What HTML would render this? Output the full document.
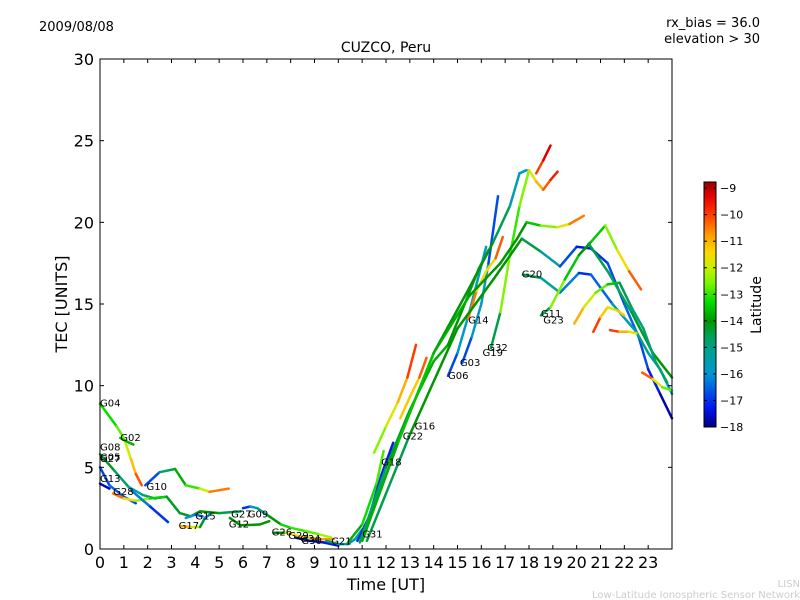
<!DOCTYPE html>
<html><head><meta charset="utf-8"><style>
body{margin:0;background:#fff;}
svg{display:block;font-family:"DejaVu Sans","Liberation Sans",sans-serif;}
</style></head><body>
<svg id="chart" width="800" height="600" viewBox="0 0 800 600">
<rect width="800" height="600" fill="#fff"/>
<text x="39" y="31" font-size="13">2009/08/08</text>
<text x="760" y="27" font-size="13" text-anchor="end">rx_bias = 36.0</text>
<text x="760" y="43" font-size="13" text-anchor="end">elevation &gt; 30</text>
<text x="386" y="52" font-size="14" text-anchor="middle">CUZCO, Peru</text>
<text x="0" y="0" font-size="16" text-anchor="middle" transform="translate(67,304) rotate(-90)">TEC [UNITS]</text>
<text x="386" y="590" font-size="16" text-anchor="middle">Time [UT]</text>
<text x="800" y="587" font-size="10" fill="#ccc" text-anchor="end">LISN</text>
<text x="800" y="598" font-size="10" fill="#ccc" text-anchor="end">Low-Latitude Ionospheric Sensor Network</text>
<defs><linearGradient id="cmap" x1="0" y1="1" x2="0" y2="0"></linearGradient></defs>
<g id="marks"></g>
<g id="axes"></g>
</svg>
<script>
const xTicks=[0,1,2,3,4,5,6,7,8,9,10,11,12,13,14,15,16,17,18,19,20,21,22,23];
const yTicks=[0,5,10,15,20,25,30];
const cbTicks=[-9,-10,-11,-12,-13,-14,-15,-16,-17,-18];
// tracks: [time UT, TEC, latitude]
const trG04=[[0,8.9,-13.5],[0.7,7.5,-13],[1.0,6.8,-12.5],[1.3,5.5,-11.5],[1.5,4.6,-10.8],[1.75,3.9,-9.5]];
const trG02=[[0.85,6.8,-13.5],[1.1,6.6,-13.7],[1.4,6.4,-13.8]];
const trG08=[[0,5.8,-14],[0.6,4.8,-14.5],[1.2,3.8,-15],[1.8,3.3,-15.5],[2.3,3.1,-14.5],[2.8,3.2,-14]];
const trG13=[[0,5.0,-16.5],[0.4,3.9,-17],[1.0,3.2,-16],[1.5,2.8,-17.5]];
const trG13b=[[0,4.0,-17.5],[0.4,3.7,-17.8]];
const trG28=[[0.55,3.4,-9.8],[1.0,3.1,-11],[1.5,2.95,-12],[2.1,3.1,-12.8],[2.8,3.2,-14],[3.35,2.2,-14.5],[3.8,2.0,-14],[4.2,2.3,-14],[5.0,2.2,-14],[5.9,2.3,-15]];
const trG10=[[1.9,3.9,-18],[2.5,4.7,-15.5],[3.15,4.9,-14],[3.6,3.9,-13.5],[4.2,3.7,-12.5],[4.6,3.5,-11.5],[5.4,3.7,-9.5]];
const trBlue=[[1.3,3.6,-16],[2.1,2.6,-16.5],[2.85,1.65,-17.5]];
const trG17=[[3.4,1.4,-10.5],[3.8,1.35,-11.5],[4.2,1.35,-12.5],[4.4,1.9,-16],[4.6,2.1,-16.5]];
const trG15=[[3.6,1.9,-16],[4.0,2.1,-16],[4.3,2.0,-17]];
const trG12=[[5.45,1.9,-14],[5.9,1.45,-14],[6.7,1.5,-14],[7.1,1.7,-14]];
const trG09=[[6.0,2.5,-17.5],[6.3,2.6,-16.5],[6.6,2.5,-15.5],[7.1,2.0,-14.5],[7.6,1.5,-13.5],[8.0,1.3,-13],[8.6,1.1,-13],[9.2,0.9,-12.5],[9.7,0.7,-12]];
const trG26=[[7.3,1.0,-16],[7.8,1.0,-12],[8.3,0.8,-11],[8.8,0.7,-12],[9.3,0.6,-11],[9.8,0.6,-10.5]];
const trG30=[[8.2,0.7,-17.5],[8.8,0.5,-17.5],[9.4,0.4,-17.5],[10.0,0.2,-17]];
const trG21=[[9.5,0.5,-14.5],[10.0,0.3,-15],[10.4,0.3,-16],[10.7,0.6,-15.5],[11.0,1.2,-15]];
const trYel=[[10.4,0.4,-14],[11.0,1.5,-13.5],[11.6,4.0,-13],[11.9,6.0,-12.8]];
const trG18=[[10.8,0.5,-17],[11.3,2.0,-17],[11.8,4.5,-17],[12.3,6.5,-17.5]];
const trRed=[[11.5,5.9,-13],[12.0,7.5,-12],[12.5,9.0,-11.5],[12.9,10.5,-10.5],[13.26,12.5,-9.5]];
const trG16=[[12.6,8.0,-11],[13.0,9.3,-11.5],[13.4,10.5,-11],[13.7,11.7,-9.5]];
const trG06=[[10.9,0.4,-15],[12.0,5.0,-14.5],[13.0,8.5,-14],[14.0,11.5,-13.5],[14.6,12.5,-14],[15.3,15,-14],[15.9,17.2,-14.5],[16.3,18.3,-16]];
const trG06b=[[14.6,10.6,-17.5],[15.0,12,-16],[15.5,14.5,-15.5],[15.9,16.8,-15.5],[16.2,18.5,-16]];
const trG03=[[15.2,11.4,-17.5],[15.6,13,-16],[16.0,15,-15.5],[16.3,17.5,-16],[16.7,21.6,-17.5]];
const trG14=[[15.45,14.1,-10],[15.8,15.8,-11],[16.2,17,-12],[16.6,17.8,-11],[16.9,19.1,-9.5]];
const trLong1=[[11,0.5,-15],[12.5,6.5,-14],[14,12,-14],[15.5,16,-14],[16.5,18.8,-14],[17.2,21,-15],[17.6,23,-16],[17.9,23.2,-16]];
const trG32=[[16.4,12.3,-17],[16.8,14.5,-12],[17.2,18,-13],[17.6,21,-13],[18.0,23.2,-12],[18.3,22.5,-11.5],[18.6,22.0,-10.5],[18.9,22.6,-10],[19.2,23.1,-9.3]];
const trRed2=[[18.3,23,-10.5],[18.6,23.8,-9.5],[18.9,24.7,-9]];
const trG20a=[[11,0.5,-14],[12.5,6.5,-13.5],[14,12,-13.5],[15.5,15.5,-14],[16.8,17.5,-14],[17.5,19,-14],[17.9,20.0,-14],[18.5,19.8,-13],[19.2,19.7,-12],[19.7,19.9,-11.5],[20.3,20.4,-9.5]];
const trBig=[[11.2,0.5,-15],[13,7,-14],[15,13.5,-14],[16.5,16.5,-14],[17.7,19,-14],[18.5,18.2,-15],[19.3,17.3,-16],[20,18.5,-17.5],[20.6,18.4,-17],[21.3,17.5,-17],[22,15,-16.5],[22.6,13,-16.5],[23,11,-17],[23.5,9.5,-17.5],[24,8,-18]];
const trG20=[[17.75,16.8,-14],[18.5,16.6,-15],[19.3,15.7,-15.5],[20.1,16.9,-17],[20.6,16.8,-17],[21.5,15,-16],[22.5,13.3,-15],[23,12,-15],[23.5,11,-16],[24,9.5,-16]];
const trG11=[[18.5,14.3,-17],[18.9,14.8,-12],[19.5,16.5,-13],[20.1,18,-14],[20.6,18.8,-14],[21.2,19.8,-13],[21.7,18.3,-12],[22.2,17,-11],[22.7,15.9,-9.5]];
const trGrn=[[20.5,18.7,-14],[21.3,17,-15],[22.3,14.5,-14.5],[23.2,12,-14],[24,10.5,-14]];
const trOr=[[19.9,13.8,-10.5],[20.3,14.8,-11.5],[20.8,15.7,-12.5],[21.3,16.2,-13],[21.8,16.3,-14],[22.3,14.8,-15],[22.8,13.5,-15],[23.3,11.5,-14.5],[23.8,10.2,-15]];
const trRed3=[[20.7,13.3,-9.5],[21.0,14.2,-10.5],[21.3,14.8,-12],[21.7,14.6,-11.5],[22.0,14.3,-11]];
const trRed4=[[21.4,13.4,-9.5],[21.8,13.3,-10.5],[22.2,13.3,-11.5],[22.5,13.2,-12]];
const trEnd=[[22.75,10.8,-9.5],[23.2,10.4,-11],[23.6,9.9,-12.5],[24,9.7,-13]];
const tracks=[trG04,trG02,trG08,trG13,trG13b,trG28,trG10,trBlue,trG17,trG15,trG12,trG09,trG26,trG30,trG21,trYel,trG18,trRed,trG16,trG06,trG06b,trG03,trG14,trLong1,trG32,trRed2,trG20a,trBig,trG20,trG11,trGrn,trOr,trRed3,trRed4,trEnd];
const labelNames=["G04","G02","G08","G05","G27","G13","G28","G10","G15","G17","G27","G09","G12","G26","G29","G34","G30","G21","G31","G18","G16","G22","G06","G03","G19","G32","G14","G20","G11","G23"];
const labelT=[0,0.85,0,0,0,0,0.55,1.95,4.0,3.3,5.5,6.2,5.4,7.2,7.9,8.4,8.45,9.7,11.0,11.8,13.2,12.7,14.6,15.1,16.05,16.25,15.45,17.7,18.5,18.6];
const labelV=[8.9,6.8,6.2,5.6,5.5,4.3,3.5,3.8,2.0,1.4,2.1,2.1,1.5,1.0,0.8,0.6,0.5,0.45,0.9,5.3,7.5,6.9,10.6,11.4,12.0,12.3,14.0,16.8,14.4,14.0];
const X0=100,X1=672,Y0=549,Y1=59;
const xs=t=>X0+t*(X1-X0)/24;
const ys=v=>Y0-v*(Y0-Y1)/30;
// colormap stops [latitude, r,g,b]
const cmStops=[[-18,0,0,130],[-17.3,0,20,240],[-16.6,0,90,230],[-16,0,150,210],[-15.3,0,160,160],[-14.6,0,160,90],[-14,0,150,0],[-13.3,0,220,0],[-12.6,120,245,0],[-12,200,240,0],[-11.4,250,215,0],[-10.8,255,160,0],[-10,255,60,0],[-9.3,230,0,0],[-8.77,150,0,0]];
function cmap(lat){
 if(lat<=cmStops[0][0])return `rgb(${cmStops[0].slice(1)})`;
 for(let i=0;i<cmStops.length-1;i++){const a=cmStops[i],b=cmStops[i+1];
  if(lat<=b[0]){const f=(lat-a[0])/(b[0]-a[0]);return `rgb(${[1,2,3].map(k=>Math.round(a[k]+(b[k]-a[k])*f))})`;}}
 const l=cmStops[cmStops.length-1];return `rgb(${l.slice(1)})`;}
const NS='http://www.w3.org/2000/svg';
const grad=document.getElementById('cmap');
cmStops.forEach(s=>{const st=document.createElementNS(NS,'stop');st.setAttribute('offset',((s[0]+18)/9.23).toFixed(3));st.setAttribute('stop-color',`rgb(${s.slice(1)})`);grad.appendChild(st);});
const marks=document.getElementById('marks');
const axes=document.getElementById('axes');
function mk(tag,attrs,parent){const e=document.createElementNS(NS,tag);for(const k in attrs)e.setAttribute(k,attrs[k]);parent.appendChild(e);return e;}
tracks.forEach((tr,ti)=>{
 const g=mk('g',{},marks);
 
 
 for(let i=0;i<tr.length-1;i++){
  const a=tr[i],b=tr[i+1];
  const l=mk('line',{x1:xs(a[0]).toFixed(1),y1:ys(a[1]).toFixed(1),x2:xs(b[0]).toFixed(1),y2:ys(b[1]).toFixed(1),stroke:cmap((a[2]+b[2])/2),'stroke-width':2.5,'stroke-linecap':'round'},g);
  
  
 }
});
labelNames.forEach((n,i)=>{
 const t=mk('text',{x:xs(labelT[i]).toFixed(1),y:(ys(labelV[i])+3).toFixed(1),'font-size':10},marks);
 t.textContent=n;
 
 
});
const frame=mk('rect',{x:X0,y:Y1,width:X1-X0,height:Y0-Y1,fill:'none',stroke:'#000','stroke-width':1},axes);


xTicks.forEach(t=>{
 const x=xs(t);
 mk('line',{x1:x,y1:Y0,x2:x,y2:Y0-4,stroke:'#000'},axes);
 mk('line',{x1:x,y1:Y1,x2:x,y2:Y1+4,stroke:'#000'},axes);
 const tx=mk('text',{x:x,y:Y0+19,'font-size':16,'text-anchor':'middle'},axes);
 tx.textContent=t;
 
 
});
yTicks.forEach(v=>{
 const y=ys(v);
 mk('line',{x1:X0,y1:y,x2:X0+4,y2:y,stroke:'#000'},axes);
 mk('line',{x1:X1,y1:y,x2:X1-4,y2:y,stroke:'#000'},axes);
 const tx=mk('text',{x:X0-6,y:y+6,'font-size':16,'text-anchor':'end'},axes);
 tx.textContent=v;
 
 
});
// colorbar
const CB0=427,CB1=182,cbTop=-8.77,cbBot=-18;
const cy=l=>CB0-(l-cbBot)*(CB0-CB1)/(cbTop-cbBot);
const cb=mk('rect',{x:704,y:CB1,width:12,height:CB0-CB1,fill:'url(#cmap)',stroke:'#000','stroke-width':1},axes);


cbTicks.forEach(l=>{
 const y=cy(l);
 mk('line',{x1:704,y1:y,x2:707,y2:y,stroke:'#000'},axes);
 mk('line',{x1:716,y1:y,x2:713,y2:y,stroke:'#000'},axes);
 const tx=mk('text',{x:720,y:y+4,'font-size':11},axes);
 tx.textContent='\u2212'+Math.abs(l);
 
 
});
const cbt=mk('text',{x:0,y:0,'font-size':14,'text-anchor':'middle',transform:'translate(761,305) rotate(-90)'},axes);
cbt.textContent='Latitude';


</script>
</body></html>
